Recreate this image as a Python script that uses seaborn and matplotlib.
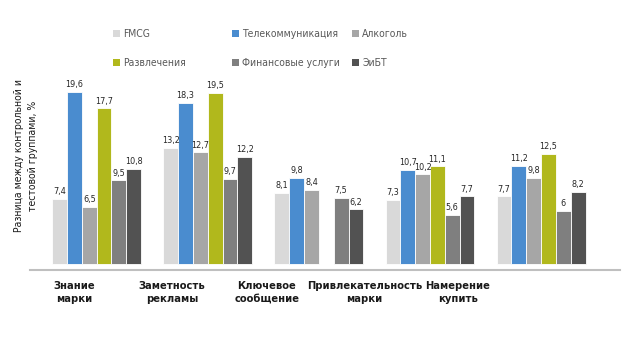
import numpy as np
import pandas as pd
import matplotlib
matplotlib.use("Agg")
import matplotlib.pyplot as plt
from matplotlib.patches import Patch
import seaborn as sns

categories = ["Знание\nмарки", "Заметность\nрекламы", "Ключевое\nсообщение",
              "Привлекательность\nмарки", "Намерение\nкупить"]
series = ["FMCG", "Телекоммуникация", "Алкоголь", "Развлечения",
          "Финансовые услуги", "ЭиБТ"]
fmcg = [7.4, 13.2, 8.1, 7.3, 7.7]
telecom = [19.6, 18.3, 9.8, 10.7, 11.2]
alcohol = [6.5, 12.7, 8.4, 10.2, 9.8]
entertainment = [17.7, 19.5, np.nan, 11.1, 12.5]
finance = [9.5, 9.7, 7.5, 5.6, 6.0]
eibt = [10.8, 12.2, 6.2, 7.7, 8.2]
colors = ["#d9d9d9", "#4a8ccf", "#a6a6a6", "#b1b81c", "#7f7f7f", "#525252"]

values = [fmcg, telecom, alcohol, entertainment, finance, eibt]
rows = []
for s, vals in zip(series, values):
    for c, v in zip(categories, vals):
        rows.append({"cat": c, "series": s, "value": v})
df = pd.DataFrame(rows)

sns.set_theme(style="white")
plt.rcParams["font.family"] = ["DejaVu Sans"]
plt.rcParams["font.stretch"] = "condensed"

fig = plt.figure(figsize=(6.34, 3.45), dpi=100)
ax = fig.add_axes([30 / 634, 75 / 345, 590 / 634, 210 / 345])

sns.barplot(data=df, x="cat", y="value", hue="series", order=categories,
            hue_order=series, palette=colors, saturation=1, width=0.8, ax=ax,
            edgecolor="white", linewidth=0.6, legend=False, errorbar=None)

def fmt(v):
    if v is None or np.isnan(v):
        return ""
    return ("%g" % v).replace(".", ",")

for cont in ax.containers:
    labels = [fmt(v) for v in cont.datavalues]
    ax.bar_label(cont, labels=labels, padding=2, fontsize=6.5, color="#262626")

ax.set_ylim(-0.68, 23.2)
ax.set_xlim(-0.60, 4.71)
for sp in ["top", "right", "left"]:
    ax.spines[sp].set_visible(False)
ax.spines["bottom"].set_color("#bfbfbf")
ax.spines["bottom"].set_linewidth(1.5)
ax.set_yticks([])
ax.set_xlabel("")
ax.set_ylabel("Разница между контрольной и\nтестовой группами, %", fontsize=7.5,
              color="#1a1a1a", linespacing=1.4)
ax.yaxis.set_label_coords(0.013, 0.543)

label_pos = [-0.2, 0.68, 1.53, 2.41, 3.25]
ax.set_xticks(label_pos)
ax.set_xticklabels(categories, fontsize=8, fontweight="bold", color="#1a1a1a",
                   linespacing=1.3)
ax.tick_params(axis="x", length=0, pad=8)

handles = [Patch(facecolor=c, edgecolor="none") for c in colors]
col_x = [113, 232, 352]
for k in range(3):
    idx = [k, k + 3]
    fig.legend([handles[i] for i in idx], [series[i] for i in idx], ncol=1,
               loc="upper left", bbox_to_anchor=(col_x[k] / 634, 1 - 29 / 345),
               frameon=False, fontsize=7.5, handlelength=0.7, handleheight=0.7,
               handletextpad=0.3, labelspacing=1.85, borderpad=0,
               borderaxespad=0, labelcolor="#595959")

fig.savefig("out.png", dpi=100)
